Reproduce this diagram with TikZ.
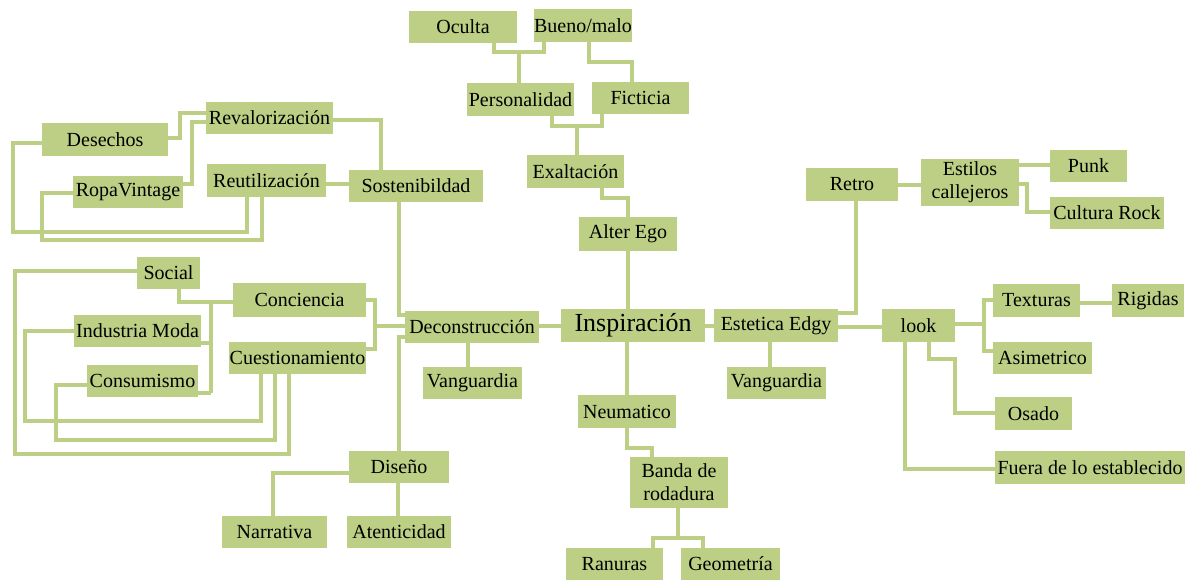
\documentclass[tikz,border=0pt]{standalone}
\usepackage{fontspec}
\setmainfont{Liberation Serif}
\definecolor{boxg}{RGB}{188,207,132}
\begin{document}
\begin{tikzpicture}[x=1pt,y=-1pt,
  box/.style={fill=boxg, inner sep=0pt, align=center, text=black,
    font=\fontsize{20}{23}\selectfont},
  link/.style={draw=boxg, line width=4.2pt, line join=miter}]
\useasboundingbox (0,0) rectangle (1186,579);
\node[box, minimum width=108pt, minimum height=32pt] (oculta) at (463,27) {Oculta};
\node[box, minimum width=98pt, minimum height=33pt] (bueno) at (583,25.5) {Bueno/malo};
\node[box, minimum width=107pt, minimum height=33pt] (pers) at (520.5,99.5) {Personalidad};
\node[box, minimum width=97pt, minimum height=32pt] (fict) at (640.5,98) {Ficticia};
\node[box, minimum width=97pt, minimum height=33pt] (exal) at (575.5,171.5) {Exaltación};
\node[box, minimum width=98pt, minimum height=34pt] (alter) at (628,234) {Alter Ego};
\node[box, minimum width=134pt, minimum height=32pt] (sost) at (416,186) {Sostenibildad};
\node[box, minimum width=126pt, minimum height=33pt] (des) at (105,139.5) {Desechos};
\node[box, minimum width=127pt, minimum height=32pt] (reval) at (269.5,118) {Revalorización};
\node[box, minimum width=110pt, minimum height=32pt] (ropa) at (128,192) {RopaVintage};
\node[box, minimum width=119pt, minimum height=33pt] (reut) at (266.5,180.5) {Reutilización};
\node[box, minimum width=63pt, minimum height=32pt] (social) at (168.5,273) {Social};
\node[box, minimum width=133pt, minimum height=34pt] (conc) at (299.5,300) {Conciencia};
\node[box, minimum width=127pt, minimum height=32pt] (ind) at (137.5,331) {Industria Moda};
\node[box, minimum width=137pt, minimum height=32pt] (cuest) at (297.5,358) {Cuestionamiento};
\node[box, minimum width=111pt, minimum height=32pt] (cons) at (142.5,381) {Consumismo};
\node[box, minimum width=134pt, minimum height=32pt] (decon) at (472,327) {Deconstrucción};
\node[box, minimum width=99pt, minimum height=32pt] (vang1) at (472.5,383) {Vanguardia};
\node[box, minimum width=100pt, minimum height=32pt] (dis) at (399,467) {Diseño};
\node[box, minimum width=105pt, minimum height=32pt] (narr) at (274.5,532) {Narrativa};
\node[box, minimum width=104pt, minimum height=32pt] (aten) at (399,532) {Atenticidad};
\node[box, minimum width=144pt, minimum height=33pt, font=\fontsize{26}{28}\selectfont] (insp) at (633,325.5) {Inspiración};
\node[box, minimum width=124pt, minimum height=33pt] (edgy) at (776,325.5) {Estetica Edgy};
\node[box, minimum width=99pt, minimum height=32pt] (vang2) at (776.5,383) {Vanguardia};
\node[box, minimum width=92pt, minimum height=33pt] (retro) at (852,184.5) {Retro};
\node[box, minimum width=98pt, minimum height=47pt] (estilos) at (970,182.5) {Estilos\\callejeros};
\node[box, minimum width=77pt, minimum height=32pt] (punk) at (1088.5,166) {Punk};
\node[box, minimum width=114pt, minimum height=32pt] (rock) at (1107,213) {Cultura Rock};
\node[box, minimum width=73pt, minimum height=33pt] (look) at (918.5,325.5) {look};
\node[box, minimum width=87pt, minimum height=33pt] (text) at (1036.5,300.5) {Texturas};
\node[box, minimum width=72pt, minimum height=33pt] (rig) at (1148,300.5) {Rigidas};
\node[box, minimum width=99pt, minimum height=32pt] (asim) at (1042.5,358) {Asimetrico};
\node[box, minimum width=77pt, minimum height=33pt] (osado) at (1033.5,413.5) {Osado};
\node[box, minimum width=190pt, minimum height=33pt] (fuera) at (1090,467.5) {Fuera de lo establecido};
\node[box, minimum width=98pt, minimum height=33pt] (neum) at (627,411.5) {Neumatico};
\node[box, minimum width=98pt, minimum height=51pt] (banda) at (679,482.5) {Banda de\\rodadura};
\node[box, minimum width=97pt, minimum height=32pt] (ran) at (614.5,564) {Ranuras};
\node[box, minimum width=99pt, minimum height=32pt] (geo) at (730.5,564) {Geometría};

% top cluster
\draw[link] (494,0 |- oculta.south) |- (519,52) -- (519,0 |- pers.north);
\draw[link] (544,0 |- bueno.south) |- (519,52);
\draw[link] (589,0 |- bueno.south) |- (632,62) -- (632,0 |- fict.north);
\draw[link] (552,0 |- pers.south) |- (602,126) -- (602,0 |- fict.south);
\draw[link] (577,126) -- (577,0 |- exal.north);
\draw[link] (602,0 |- exal.south) |- (628,198) -- (628,0 |- alter.north);
\draw[link] (628,0 |- alter.south) -- (628,0 |- insp.north);
% bottom centre
\draw[link] (627,0 |- insp.south) -- (627,0 |- neum.north);
\draw[link] (627,0 |- neum.south) |- (652,448) -- (652,0 |- banda.north);
\draw[link] (678,0 |- banda.south) -- (678,538);
\draw[link] (653,0 |- ran.north) |- (703,538) -- (703,0 |- geo.north);
% main axis
\draw[link] (decon.east |- 0,326) -- (insp.west |- 0,326);
\draw[link] (insp.east |- 0,326) -- (edgy.west |- 0,326);
\draw[link] (edgy.east |- 0,327) -- (look.west |- 0,327);
% right side
\draw[link] (edgy.east |- 0,313) -| (856,0 |- retro.south);
\draw[link] (770,0 |- edgy.south) -- (770,0 |- vang2.north);
\draw[link] (retro.east |- 0,185) -- (estilos.west |- 0,185);
\draw[link] (estilos.east |- 0,165) -- (punk.west |- 0,165);
\draw[link] (estilos.east |- 0,184) -| (1027,212) -- (rock.west |- 0,212);
\draw[link] (look.east |- 0,324) -- (984,324);
\draw[link] (text.west |- 0,300) -- (984,300) -- (984,351) -- (asim.west |- 0,351);
\draw[link] (text.east |- 0,303) -- (rig.west |- 0,303);
\draw[link] (929,0 |- look.south) |- (955,359) |- (osado.west |- 0,413);
\draw[link] (905,0 |- look.south) |- (fuera.west |- 0,469);
% left side
\draw[link] (468,0 |- decon.south) -- (468,0 |- vang1.north);
\draw[link] (decon.west |- 0,315) -| (399,0 |- sost.south);
\draw[link] (decon.west |- 0,337) -| (399,0 |- dis.north);
\draw[link] (dis.west |- 0,473) -| (273,0 |- narr.north);
\draw[link] (398,0 |- dis.south) -- (398,0 |- aten.north);
\draw[link] (decon.west |- 0,326) -- (375,326);
\draw[link] (conc.east |- 0,300) -- (375,300) -- (375,349) -- (cuest.east |- 0,349);
\draw[link] (conc.west |- 0,302) -- (179,302) -- (179,0 |- social.south);
\draw[link] (211,302) -- (211,393);
\draw[link] (ind.east |- 0,343) -- (211,343);
\draw[link] (cons.east |- 0,393) -- (211,393);
\draw[link] (social.west |- 0,271) -| (15,454) -| (289,0 |- cuest.south);
\draw[link] (ind.west |- 0,331) -| (25,421) -| (261,0 |- cuest.south);
\draw[link] (cons.west |- 0,385) -| (56,440) -| (275,0 |- cuest.south);
% sustainability cluster
\draw[link] (reut.east |- 0,184) -- (sost.west |- 0,184);
\draw[link] (reval.east |- 0,120) -| (381,0 |- sost.north);
\draw[link] (des.east |- 0,138) -| (180,113) -- (reval.west |- 0,113);
\draw[link] (ropa.east |- 0,184) -| (192,122) -- (reval.west |- 0,122);
\draw[link] (des.west |- 0,143) -| (13,232) -| (247,0 |- reut.south);
\draw[link] (ropa.west |- 0,193) -| (42,240) -| (262,0 |- reut.south);
\end{tikzpicture}
\end{document}
